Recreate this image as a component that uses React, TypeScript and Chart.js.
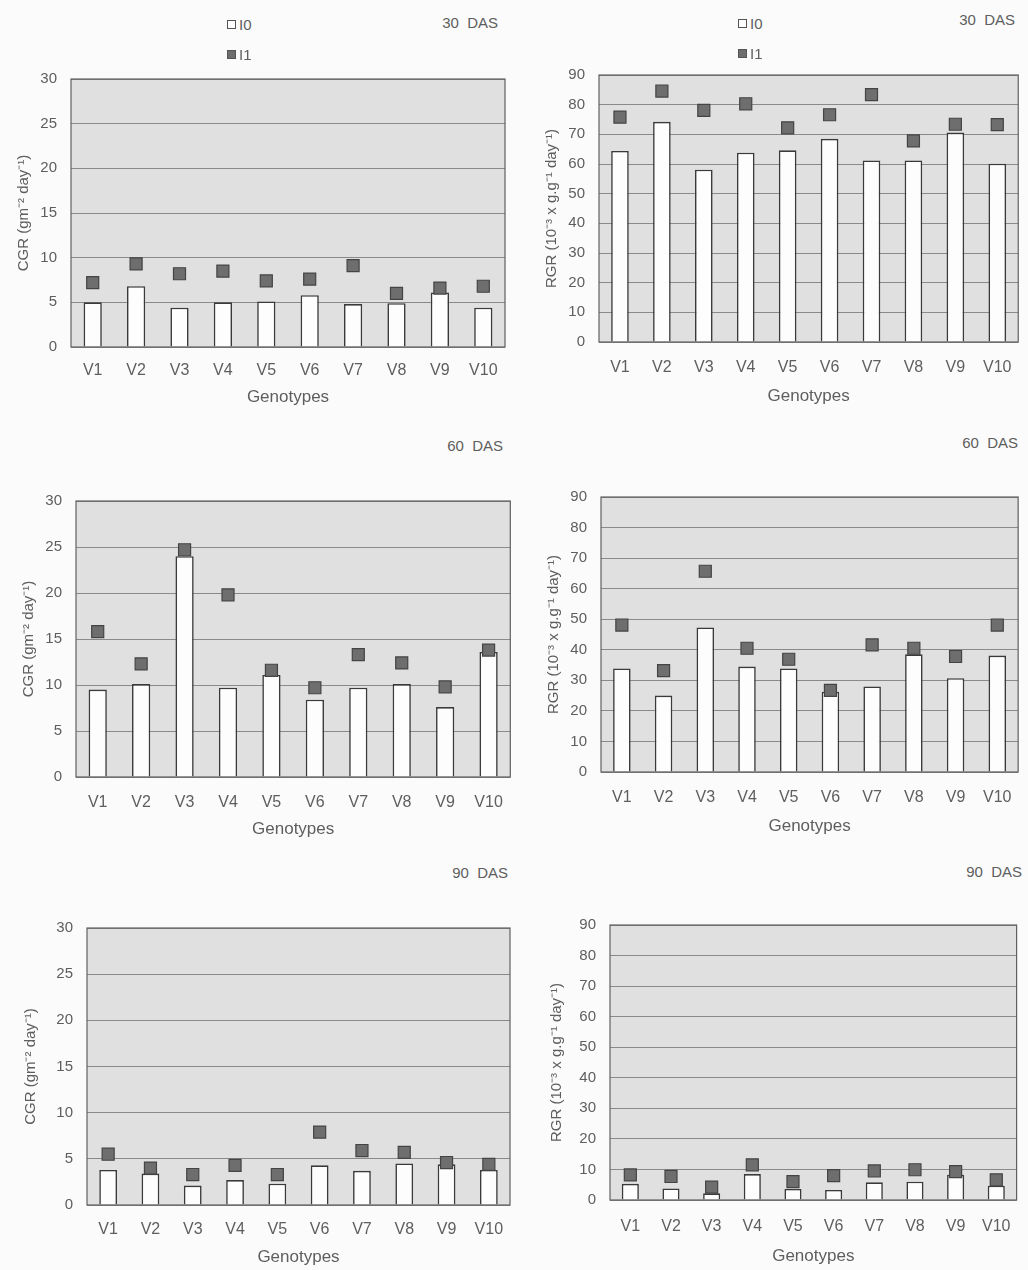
import React, { useEffect, useRef } from "react";
import { Chart, registerables } from "chart.js";

Chart.register(...registerables);

// ---------- data ----------
const genotypes = ["V1", "V2", "V3", "V4", "V5", "V6", "V7", "V8", "V9", "V10"];
const seriesNames = ["I0", "I1"];

const cgr30I0 = [5.0, 6.8, 4.4, 5.0, 5.1, 5.8, 4.8, 4.9, 6.1, 4.4];
const cgr30I1 = [7.2, 9.3, 8.2, 8.5, 7.4, 7.6, 9.1, 6.0, 6.6, 6.8];
const rgr30I0 = [64.4, 74.2, 58.1, 63.8, 64.6, 68.5, 61.2, 61.2, 70.6, 60.1];
const rgr30I1 = [75.8, 84.6, 78.1, 80.3, 72.2, 76.6, 83.4, 67.8, 73.4, 73.3];

const cgr60I0 = [9.5, 10.1, 24.0, 9.7, 11.1, 8.4, 9.7, 10.1, 7.6, 13.6];
const cgr60I1 = [15.8, 12.3, 24.7, 19.8, 11.6, 9.7, 13.3, 12.4, 9.8, 13.8];
const rgr60I0 = [33.9, 25.0, 47.3, 34.5, 33.9, 26.3, 28.0, 38.5, 30.7, 38.1];
const rgr60I1 = [48.1, 33.2, 65.7, 40.5, 36.9, 26.7, 41.6, 40.5, 37.8, 48.1];

const cgr90I0 = [3.8, 3.4, 2.1, 2.7, 2.3, 4.3, 3.7, 4.5, 4.4, 3.8];
const cgr90I1 = [5.5, 4.0, 3.3, 4.3, 3.3, 7.9, 5.9, 5.7, 4.6, 4.4];
const rgr90I0 = [5.3, 3.8, 2.2, 8.5, 3.6, 3.3, 5.8, 6.0, 8.3, 4.7];
const rgr90I1 = [8.2, 7.7, 4.2, 11.5, 6.0, 8.0, 9.5, 9.9, 9.3, 6.6];

const cgrMax = 30;
const cgrStep = 5;
const rgrMax = 90;
const rgrStep = 10;

const cgrTitle = "CGR (gm\u207B\u00B2 day\u207B\u00B9)";
const rgrTitle = "RGR (10\u207B\u00B3 x g.g\u207B\u00B9 day\u207B\u00B9)";
const xTitle = "Genotypes";
const stageLabels = ["30  DAS", "60  DAS", "90  DAS"];

// ---------- styling ----------
const FONT = "'Liberation Sans', Arial, Helvetica, sans-serif";
const TEXT = "#5e5e5e";
const TOP_GAP = 30;

type Rect = { l: number; t: number; r: number; b: number };
type PanelSpec = {
  cx: number; cw: number; cb: number;
  plot: Rect;
  i0: number[]; i1: number[];
  max: number; step: number; yTitle: string;
  tickPad: number;
};

const plotFrame = {
  id: "plotFrame",
  beforeDraw(chart: any) {
    const { ctx, chartArea: a } = chart;
    ctx.save();
    ctx.fillStyle = "#e0e0e0";
    ctx.fillRect(a.left, a.top, a.right - a.left, a.bottom - a.top);
    ctx.restore();
  },
  afterDraw(chart: any) {
    const { ctx, chartArea: a } = chart;
    ctx.save();
    ctx.strokeStyle = "#606060";
    ctx.lineWidth = 1.2;
    ctx.strokeRect(a.left, a.top, a.right - a.left, a.bottom - a.top);
    ctx.restore();
  },
};

function Panel({ spec }: { spec: PanelSpec }) {
  const ref = useRef<HTMLCanvasElement | null>(null);
  const cy = spec.plot.t - TOP_GAP;
  const ch = spec.cb - cy;
  useEffect(() => {
    if (!ref.current) return;
    const { cx, cw, plot } = spec;
    const yw = plot.l - cx;
    const xh = spec.cb - plot.b;
    const chart = new Chart(ref.current, {
      type: "bar",
      data: {
        labels: genotypes,
        datasets: [
          {
            type: "bar",
            label: seriesNames[0],
            data: spec.i0,
            backgroundColor: "#fdfdfd",
            borderColor: "#3a3a3a",
            borderWidth: 1.6,
            barPercentage: 0.42,
            categoryPercentage: 1,
            order: 2,
          } as any,
          {
            type: "line",
            label: seriesNames[1],
            data: spec.i1,
            showLine: false,
            pointStyle: "rect",
            pointRadius: 8.5,
            pointHoverRadius: 8.5,
            pointBackgroundColor: "#6e6e6e",
            pointBorderColor: "#444",
            pointBorderWidth: 1.2,
            clip: false,
            order: 1,
          } as any,
        ],
      },
      options: {
        responsive: false,
        animation: false,
        devicePixelRatio: 1,
        layout: {
          padding: { left: 0, bottom: 0, top: TOP_GAP, right: cx + cw - plot.r },
        },
        plugins: {
          legend: { display: false },
          tooltip: { enabled: false },
          title: { display: false },
        },
        scales: {
          x: {
            grid: { display: false, drawTicks: false },
            border: { display: false },
            ticks: {
              color: TEXT,
              padding: spec.tickPad,
              font: { family: FONT, size: 16 },
              maxRotation: 0,
              autoSkip: false,
            },
            title: {
              display: true,
              text: xTitle,
              color: TEXT,
              padding: { top: 0, bottom: 0 },
              font: { family: FONT, size: 17 },
            },
            afterFit: (s: any) => { s.height = xh; },
          },
          y: {
            min: 0,
            max: spec.max,
            grid: { color: "#8a8a8a", lineWidth: 1, drawTicks: false },
            border: { display: false },
            ticks: {
              stepSize: spec.step,
              color: TEXT,
              padding: 14,
              font: { family: FONT, size: 15 },
            },
            title: {
              display: true,
              text: spec.yTitle,
              color: TEXT,
              padding: { top: 0, bottom: 0 },
              font: { family: FONT, size: 15 },
            },
            afterFit: (s: any) => { s.width = yw; },
          },
        },
      },
      plugins: [plotFrame],
    });
    return () => chart.destroy();
  }, [spec]);
  return (
    <canvas
      ref={ref}
      width={spec.cw}
      height={ch}
      style={{ position: "absolute", left: spec.cx, top: cy, width: spec.cw, height: ch }}
    />
  );
}

const panels: PanelSpec[] = [
  { cx: 15, cw: 500, cb: 408, plot: { l: 71, t: 79, r: 505, b: 347 }, i0: cgr30I0, i1: cgr30I1, max: cgrMax, step: cgrStep, yTitle: cgrTitle, tickPad: 14 },
  { cx: 543, cw: 485, cb: 407, plot: { l: 599, t: 75, r: 1023, b: 342 }, i0: rgr30I0, i1: rgr30I1, max: rgrMax, step: rgrStep, yTitle: rgrTitle, tickPad: 16 },
  { cx: 20, cw: 500, cb: 840, plot: { l: 76, t: 501, r: 511, b: 777 }, i0: cgr60I0, i1: cgr60I1, max: cgrMax, step: cgrStep, yTitle: cgrTitle, tickPad: 16 },
  { cx: 545, cw: 483, cb: 837, plot: { l: 601, t: 497, r: 1023, b: 772 }, i0: rgr60I0, i1: rgr60I1, max: rgrMax, step: rgrStep, yTitle: rgrTitle, tickPad: 16 },
  { cx: 22, cw: 498, cb: 1268, plot: { l: 87, t: 928, r: 510, b: 1205 }, i0: cgr90I0, i1: cgr90I1, max: cgrMax, step: cgrStep, yTitle: cgrTitle, tickPad: 15 },
  { cx: 548, cw: 480, cb: 1267, plot: { l: 610, t: 925, r: 1020, b: 1200 }, i0: rgr90I0, i1: rgr90I1, max: rgrMax, step: rgrStep, yTitle: rgrTitle, tickPad: 17 },
];

const stagePos = [
  { x: 423, y: 23, w: 75 }, { x: 940, y: 20, w: 75 },
  { x: 433, y: 446, w: 70 }, { x: 948, y: 443, w: 70 },
  { x: 438, y: 873, w: 70 }, { x: 957, y: 872, w: 65 },
];

const legendPos = [{ x: 227, y: 24 }, { x: 738, y: 23 }];

function Legend({ x, y }: { x: number; y: number }) {
  const item = (name: string, fill: string, dy: number) => (
    <div
      key={name}
      style={{
        position: "absolute", left: x, top: y + dy - 9, height: 18,
        display: "flex", alignItems: "center", fontFamily: FONT, fontSize: 15, color: TEXT,
      }}
    >
      <span
        style={{
          display: "inline-block", width: 9, height: 9, background: fill,
          border: "1px solid #555", marginRight: 3, boxSizing: "border-box",
        }}
      />
      <span>{name}</span>
    </div>
  );
  return (
    <>
      {item(seriesNames[0], "#fdfdfd", 0)}
      {item(seriesNames[1], "#6e6e6e", 30)}
    </>
  );
}

export default function App() {
  return (
    <div style={{ position: "absolute", left: 0, top: 0, width: 1028, height: 1270, background: "#fbfbfb", overflow: "hidden" }}>
      {panels.map((p, i) => (
        <Panel key={i} spec={p} />
      ))}
      {stagePos.map((s, i) => (
        <div
          key={"s" + i}
          style={{
            position: "absolute", left: s.x, top: s.y - 9, width: s.w, height: 18, lineHeight: "18px",
            fontFamily: FONT, fontSize: 15, color: TEXT, whiteSpace: "pre", textAlign: "right",
          }}
        >
          {stageLabels[Math.floor(i / 2)]}
        </div>
      ))}
      {legendPos.map((l, i) => (
        <Legend key={"l" + i} x={l.x} y={l.y} />
      ))}
    </div>
  );
}
